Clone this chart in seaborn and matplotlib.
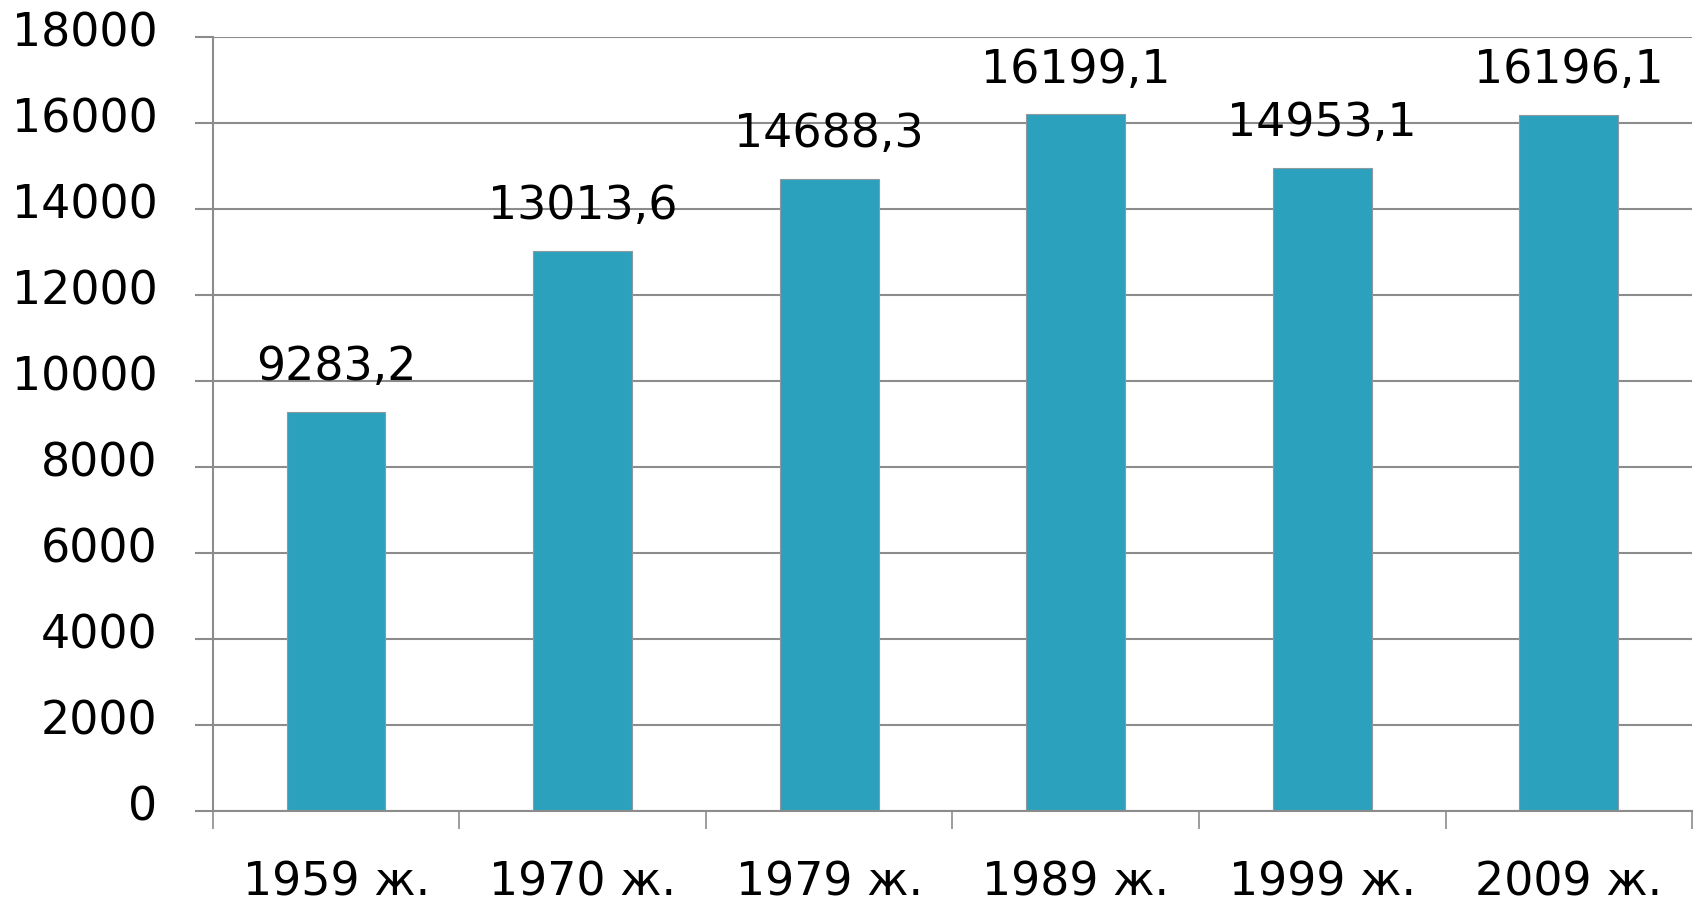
import matplotlib
matplotlib.use("Agg")
import numpy as np
import pandas as pd
import seaborn as sns
import matplotlib.pyplot as plt
from matplotlib.transforms import ScaledTranslation

# census years and population values (thousands)
years = ["1959 ж.", "1970 ж.", "1979 ж.", "1989 ж.", "1999 ж.", "2009 ж."]
values = [9283.2, 13013.6, 14688.3, 16199.1, 14953.1, 16196.1]
y_ticks = [0, 2000, 4000, 6000, 8000, 10000, 12000, 14000, 16000, 18000]

df = pd.DataFrame({"Year": years, "Value": values})

sns.set_style("white")
plt.rcParams["font.family"] = ["DejaVu Sans"]
plt.rcParams["text.color"] = "black"
plt.rcParams["xtick.color"] = "black"
plt.rcParams["ytick.color"] = "black"

grid_col = "#8c8c8c"
fig = plt.figure(figsize=(16.98, 9.05), dpi=100)
ax = fig.add_axes([0.1254, 0.1039, 0.8711, 0.8552])

ax.set_axisbelow(True)
ax.yaxis.grid(True, color=grid_col, linewidth=1.5)

sns.barplot(data=df, x="Year", y="Value", color="#2ca1be", width=0.4,
            edgecolor="#8c9aa0", linewidth=0.8, saturation=1, ax=ax)

ax.set_xlim(-0.5, len(years) - 0.5)
ax.set_ylim(0, 18000)
ax.set_yticks(y_ticks)
ax.set_xlabel("")
ax.set_ylabel("")

# value labels above bars
for i, v in enumerate(values):
    ax.annotate(f"{v:.1f}".replace(".", ","), (i, v), xytext=(0, 23),
                textcoords="offset points", ha="center", va="baseline",
                fontsize=33, color="black")

# category boundary ticks
ax.set_xticks(np.arange(-0.5, len(years)), minor=True)
ax.tick_params(axis="x", which="minor", bottom=True, length=13, width=1.2,
               color=grid_col, direction="out")
ax.tick_params(axis="x", which="major", bottom=True, length=0, pad=36,
               labelsize=33, labelcolor="black")
ax.tick_params(axis="y", which="major", left=True, length=13, width=1.5,
               color=grid_col, direction="out", pad=27, labelsize=33,
               labelcolor="black")

# y labels sit a little above their gridlines, like in the original
shift = ScaledTranslation(0, 6 / 72, fig.dpi_scale_trans)
for lab in ax.get_yticklabels():
    lab.set_transform(lab.get_transform() + shift)

for s in ["top", "right"]:
    ax.spines[s].set_visible(False)
for s in ["left", "bottom"]:
    ax.spines[s].set_color(grid_col)
    ax.spines[s].set_linewidth(1.5)

fig.savefig("out.png", dpi=100)
